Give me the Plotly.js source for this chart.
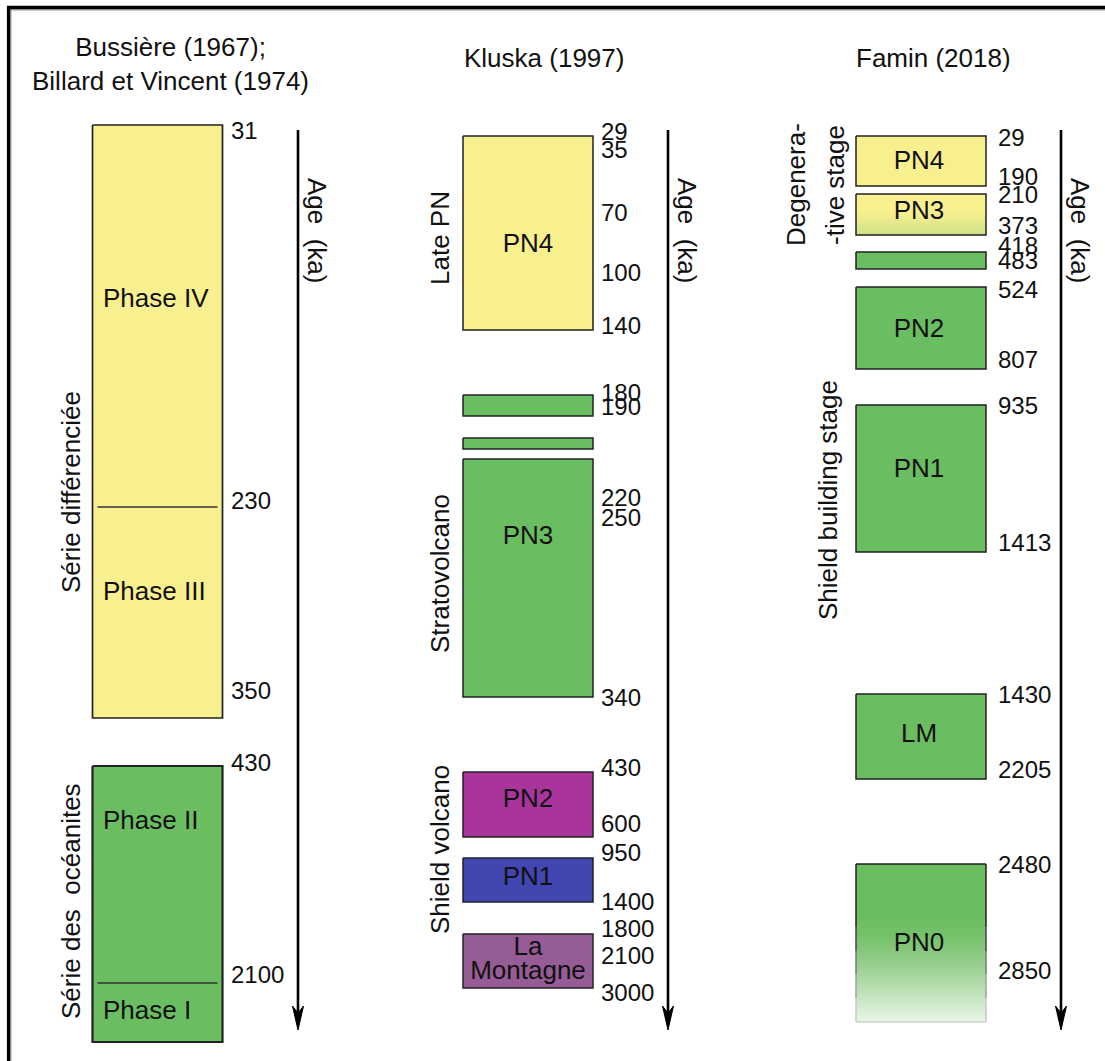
<!DOCTYPE html>
<html><head><meta charset="utf-8">
<script src="https://cdn.plot.ly/plotly-3.0.1.min.js"></script>
<style>html,body{margin:0;padding:0;background:#fff}</style>
</head><body><div id="chart" style="width:1105px;height:1061px"></div>
<script>
// ================= DATA (values / labels) =================
const columnTitles = ['Bussière (1967);<br>Billard et Vincent (1974)', 'Kluska (1997)', 'Famin (2018)'];
const axisTitle = 'Age\u00A0 (ka)';

// Bussière (1967); Billard et Vincent (1974)
const bvUnits = ['Série différenciée', 'Série des  océanites'];
const bvPhases = ['Phase IV', 'Phase III', 'Phase II', 'Phase I'];
const bvAges = ['31', '230', '350', '430', '2100'];

// Kluska (1997)
const klBoxNames = ['PN4', 'PN3a', 'PN3b', 'PN3', 'PN2', 'PN1', 'La Montagne'];
const klBoxLabels = ['PN4', 'PN3', 'PN2', 'PN1', 'La', 'Montagne'];
const klAges = ['29', '35', '70', '100', '140', '180', '190', '220', '250', '340', '430', '600', '950', '1400', '1800', '2100', '3000'];
const klGroups = ['Late PN', 'Stratovolcano', 'Shield volcano'];

// Famin (2018)
const fmBoxNames = ['PN4', 'PN3', 'PN2a', 'PN2', 'PN1', 'LM', 'PN0'];
const fmBoxLabels = ['PN4', 'PN3', 'PN2', 'PN1', 'LM', 'PN0'];
const fmAges = ['29', '190', '210', '373', '418', '483', '524', '807', '935', '1413', '1430', '2205', '2480', '2850'];
const fmGroups = ['Degenera-', '-tive stage', 'Shield building stage'];

// ================= SCHEMATIC LAYOUT (positions on the hidden axes) =================
const colCenter = [157.5, 528, 921];
const boxWidth = 130;
const ageLabelX = [231, 601, 998];
const arrowX = [298, 668, 1061];
const arrowTop = 130, arrowTip = 1030;

const bvBoxTop = [125, 766], bvBoxBot = [718, 1042];
const bvSplitRows = [507, 983];
const bvPhaseRows = [300, 593, 822, 1012];
const bvAgeRows = [133, 503, 693, 765, 977];
const bvUnitRows = [492, 901];

const klBoxTop = [136, 395, 438, 459, 772, 858, 934];
const klBoxBot = [330, 416, 449, 697, 837, 902, 988];
const klLabelRows = [245, 537, 800, 878, 948, 972];
const klAgeRows = [134, 152, 215, 275, 328, 395, 409, 500, 520, 700, 770, 826, 855, 904, 931, 958, 995];
const klGroupRows = [238, 574, 850];

const fmBoxTop = [136, 194, 252, 287, 405, 694, 864];
const fmBoxBot = [186, 235, 269, 369, 552, 779, 1022];
const fmLabelRows = [162, 212, 330, 470, 735, 944];
const fmAgeRows = [140, 179, 197, 228, 248, 263, 292, 362, 408, 545, 697, 772, 867, 973];
const fmGroupX = [796, 835, 828];
const fmGroupRows = [185, 185, 500];

// ================= STYLES =================
const YELLOW = '#F8F08E', GREEN = '#6BBD61', MAGENTA = '#A9359C', BLUE = '#4246B0', MAUVE = '#955C95';
const FONT = 'Liberation Sans, Arial, Helvetica, sans-serif';
const EDGE = '#222';

const bvColors = [YELLOW, GREEN];
const klColors = [YELLOW, GREEN, GREEN, GREEN, MAGENTA, BLUE, MAUVE];
const fmFills = [
  {c: YELLOW}, {grad: [[0, YELLOW], [0.45, YELLOW], [1, '#CDE088']]}, {c: GREEN}, {c: GREEN},
  {c: GREEN}, {c: GREEN},
  {grad: [[0, GREEN], [0.33, GREEN], [0.45, '#75C16B'], [0.6, '#8FCB86'], [0.8, '#BBE0B5'], [1, '#EAF6E8']]}
];

const traces = [];

function box(col, top, bot, fill, lineW, fadeBottom) {
  const l = colCenter[col] - boxWidth / 2, r = colCenter[col] + boxWidth / 2;
  const t = {
    type: 'scatter', mode: 'lines', hoverinfo: 'skip',
    x: [l, r, r, l, l], y: [top, top, bot, bot, top],
    fill: 'toself',
    line: {color: fadeBottom ? 'rgba(0,0,0,0)' : EDGE, width: lineW || 1.5}
  };
  if (fill.grad) {
    t.fillgradient = {type: 'vertical', colorscale: fill.grad, start: top, stop: bot};
  } else {
    t.fillcolor = fill.c;
  }
  traces.push(t);
  if (fadeBottom) {
    const h = bot - top;
    const steps = [[0, 0.4, EDGE], [0.4, 0.55, '#444'], [0.55, 0.7, '#777'], [0.7, 0.85, '#a0a0a0'], [0.85, 1, '#c8c8c8']];
    steps.forEach(([a, b, c]) => {
      traces.push({type: 'scatter', mode: 'lines', hoverinfo: 'skip',
        x: [l, l, null, r, r], y: [top + a * h, top + b * h, null, top + a * h, top + b * h],
        line: {color: c, width: 1.5}});
    });
    traces.push({type: 'scatter', mode: 'lines', hoverinfo: 'skip',
      x: [l, r], y: [top, top], line: {color: EDGE, width: 1.5}});
    traces.push({type: 'scatter', mode: 'lines', hoverinfo: 'skip',
      x: [l, r], y: [bot, bot], line: {color: '#d0d0d0', width: 1.5}});
  }
}

// Bussière boxes
bvBoxTop.forEach((t, i) => box(0, t, bvBoxBot[i], {c: bvColors[i]}, i === 1 ? 2.2 : 1.7));
bvSplitRows.forEach(y => traces.push({type: 'scatter', mode: 'lines', hoverinfo: 'skip',
  x: [colCenter[0] - boxWidth / 2 + 5, colCenter[0] + boxWidth / 2 - 5], y: [y, y],
  line: {color: '#333', width: 1.7}}));
// Kluska boxes
klBoxTop.forEach((t, i) => box(1, t, klBoxBot[i], {c: klColors[i]}, 1.5));
// Famin boxes
fmBoxTop.forEach((t, i) => box(2, t, fmBoxBot[i], fmFills[i], 1.5, i === fmBoxTop.length - 1));

// Text inside boxes
traces.push({type: 'scatter', mode: 'text', hoverinfo: 'skip',
  x: bvPhaseRows.map(() => 103), y: bvPhaseRows, text: bvPhases,
  textposition: 'middle right', textfont: {family: FONT, size: 26, color: '#111'}});
traces.push({type: 'scatter', mode: 'text', hoverinfo: 'skip',
  x: klLabelRows.map(() => colCenter[1]), y: klLabelRows, text: klBoxLabels,
  textposition: 'middle center', textfont: {family: FONT, size: 26, color: '#111'}});
traces.push({type: 'scatter', mode: 'text', hoverinfo: 'skip',
  x: fmLabelRows.map(() => colCenter[2] - 2), y: fmLabelRows, text: fmBoxLabels,
  textposition: 'middle center', textfont: {family: FONT, size: 26, color: '#111'}});

// Age labels
[[bvAges, bvAgeRows], [klAges, klAgeRows], [fmAges, fmAgeRows]].forEach(([txt, rows], c) => {
  traces.push({type: 'scatter', mode: 'text', hoverinfo: 'skip',
    x: rows.map(() => ageLabelX[c]), y: rows, text: txt,
    textposition: 'middle right', textfont: {family: FONT, size: 24, color: '#111'}});
});

// Age arrows (shaft + head)
arrowX.forEach(x => {
  traces.push({type: 'scatter', mode: 'lines', hoverinfo: 'skip',
    x: [x, x], y: [arrowTop, arrowTip - 12], line: {color: '#000', width: 2.6}});
  traces.push({type: 'scatter', mode: 'lines', hoverinfo: 'skip', fill: 'toself', fillcolor: '#000',
    x: [x, x - 5.5, x, x + 5.5, x], y: [arrowTip, arrowTip - 24, arrowTip - 17, arrowTip - 24, arrowTip],
    line: {color: '#000', width: 1}});
});

// Annotations
const ann = [];
const titleX = [170, 544, 933], titleY = [64, 58, 58];
columnTitles.forEach((t, i) => ann.push({x: titleX[i], y: titleY[i], xref: 'x', yref: 'y', text: t,
  showarrow: false, font: {family: FONT, size: 26, color: '#111'}, xanchor: 'center', yanchor: 'middle'}));
arrowX.forEach(x => ann.push({x: x + 19, y: 231, xref: 'x', yref: 'y', text: axisTitle, textangle: 90,
  showarrow: false, font: {family: FONT, size: 26, color: '#111'}}));
bvUnits.forEach((t, i) => ann.push({x: 71, y: bvUnitRows[i], xref: 'x', yref: 'y', text: t, textangle: -90,
  showarrow: false, font: {family: FONT, size: 26, color: '#111'}}));
klGroups.forEach((t, i) => ann.push({x: 440, y: klGroupRows[i], xref: 'x', yref: 'y', text: t, textangle: -90,
  showarrow: false, font: {family: FONT, size: 26, color: '#111'}}));
fmGroups.forEach((t, i) => ann.push({x: fmGroupX[i], y: fmGroupRows[i], xref: 'x', yref: 'y', text: t, textangle: -90,
  showarrow: false, font: {family: FONT, size: 26, color: '#111'}}));

const layout = {
  width: 1105, height: 1061,
  margin: {l: 0, r: 0, t: 0, b: 0},
  paper_bgcolor: '#fff', plot_bgcolor: '#fff',
  showlegend: false,
  xaxis: {range: [0, 1105], visible: false, fixedrange: true},
  yaxis: {range: [1061, 0], visible: false, fixedrange: true},
  annotations: ann,
  shapes: [
    {type: 'line', xref: 'x', yref: 'y', x0: 7, x1: 1105, y0: 7.6, y1: 7.6, line: {color: '#000', width: 3.6}},
    {type: 'line', xref: 'x', yref: 'y', x0: 8.7, x1: 8.7, y0: 6, y1: 1061, line: {color: '#000', width: 3.6}},
    {type: 'line', xref: 'x', yref: 'y', x0: 11, x1: 1105, y0: 10, y1: 10, line: {color: '#9a9a9a', width: 1}},
    {type: 'line', xref: 'x', yref: 'y', x0: 11, x1: 11, y0: 10, y1: 1061, line: {color: '#9a9a9a', width: 1}}
  ]
};

Plotly.newPlot('chart', traces, layout, {staticPlot: true, displayModeBar: false});
</script>
</body></html>
